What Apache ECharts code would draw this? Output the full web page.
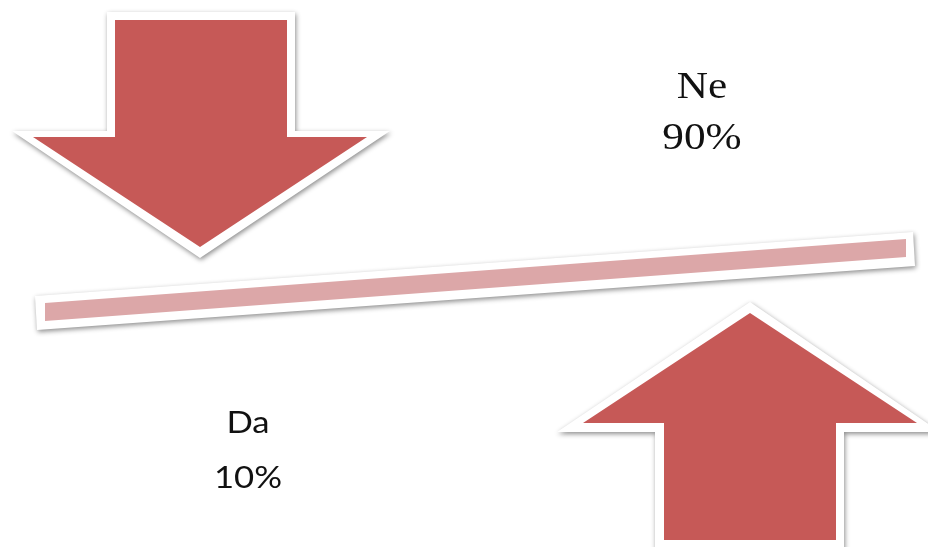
<!DOCTYPE html>
<html>
<head>
<meta charset="utf-8">
<script src="https://cdn.jsdelivr.net/npm/echarts@6/dist/echarts.min.js"></script>
<style>
html,body{margin:0;padding:0;background:#fff;}
#chart{width:928px;height:547px;}
</style>
</head>
<body>
<div id="chart"></div>
<script>
// ---- data ----
var categories = ['Ne', 'Da'];
var shares = [90, 10];
var directions = ['down', 'up'];

// ---- layout (pixel space of a hidden 928x547 grid) ----
var RED = '#c65957';
var PINK = '#dca7a8';
var arrowLayout = {
  down: {
    outer: [[107,12],[295,12],[295,131],[390,131],[200,258],[12,131],[107,131]],
    inner: [[115,20],[287,20],[287,137],[367,137],[200,247],[33,137],[115,137]]
  },
  up: {
    outer: [[750,302],[940,432],[844,432],[844,552],[655,552],[655,432],[557,432]],
    inner: [[750,313],[917,423],[836,423],[836,540],[664,540],[664,423],[583,423]]
  }
};
var labelLayout = {
  Ne: {x: 702, y1: 88, y2: 139, sx: 1.17, font: '37px "Liberation Serif", "DejaVu Serif", serif'},
  Da: {x: 248, y1: 423, y2: 478, sx: 1.12, font: '31px Lato, "Open Sans", sans-serif'}
};
var leverLayout = {
  outer: [[35,296],[913,232],[915,266],[37,330]],
  inner: [[45,303],[906,239],[906,257],[45,321]]
};

function toPts(api, pts) {
  return pts.map(function (p) { return api.coord(p); });
}

var chart = echarts.init(document.getElementById('chart'), null, {renderer: 'canvas'});
chart.setOption({
  backgroundColor: '#ffffff',
  animation: false,
  grid: {left: 0, right: 0, top: 0, bottom: 0},
  xAxis: {type: 'value', min: 0, max: 928, show: false},
  yAxis: {type: 'value', min: 0, max: 547, inverse: true, show: false},
  series: [
    {
      type: 'custom',
      name: 'lever',
      data: [[0]],
      clip: false,
      renderItem: function (params, api) {
        return {
          type: 'group',
          children: [
            {type: 'polygon', shape: {points: toPts(api, leverLayout.outer)},
             style: {fill: '#ffffff', shadowBlur: 5, shadowColor: 'rgba(0,0,0,0.45)', shadowOffsetX: 1, shadowOffsetY: 2}},
            {type: 'polygon', shape: {points: toPts(api, leverLayout.inner)},
             style: {fill: PINK}}
          ]
        };
      }
    },
    {
      type: 'custom',
      name: 'shares',
      data: categories.map(function (c, i) { return [i, shares[i]]; }),
      clip: false,
      renderItem: function (params, api) {
        var i = params.dataIndex;
        var cat = categories[i];
        var lay = arrowLayout[directions[i]];
        var lab = labelLayout[cat];
        var c1 = api.coord([lab.x, lab.y1]);
        var c2 = api.coord([lab.x, lab.y2]);
        return {
          type: 'group',
          children: [
            {type: 'polygon', shape: {points: toPts(api, lay.outer)},
             style: {fill: '#ffffff', shadowBlur: 5, shadowColor: 'rgba(0,0,0,0.45)', shadowOffsetX: 1, shadowOffsetY: 2}},
            {type: 'polygon', shape: {points: toPts(api, lay.inner)},
             style: {fill: RED}},
            {type: 'text', x: c1[0], y: c1[1], scaleX: lab.sx,
             style: {text: cat, font: lab.font, fill: '#111111', align: 'center', verticalAlign: 'middle'}},
            {type: 'text', x: c2[0], y: c2[1], scaleX: lab.sx,
             style: {text: api.value(1) + '%', font: lab.font, fill: '#111111', align: 'center', verticalAlign: 'middle'}}
          ]
        };
      }
    }
  ]
});
</script>
</body>
</html>
